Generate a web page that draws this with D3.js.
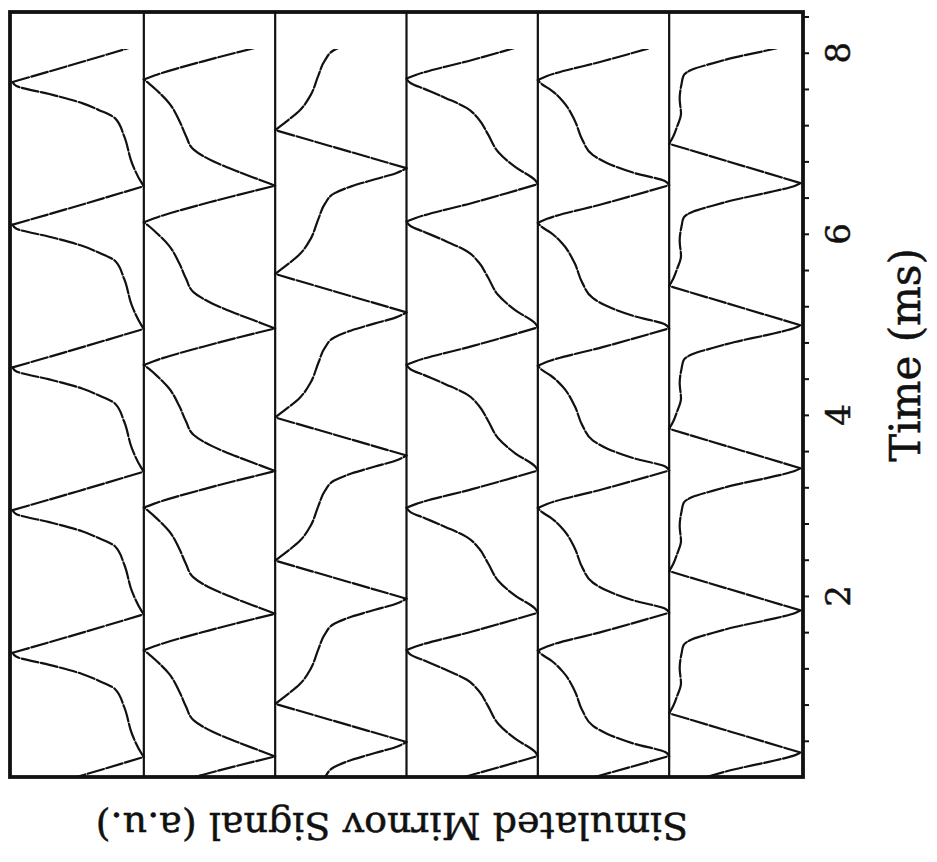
<!DOCTYPE html>
<html>
<head>
<meta charset="utf-8">
<script src="https://cdn.jsdelivr.net/npm/d3@7"></script>
<style>
  body { margin: 0; background: #ffffff; }
  svg { display: block; }
  text { font-family: "DejaVu Serif", "Liberation Serif", serif; fill: #111; stroke: #111; stroke-width: 0.5; }
</style>
</head>
<body>
<svg id="chart" width="937" height="862"></svg>
<script>
// ---------------- DATA ----------------
// Time axis, ms
const timeTicks  = [0.4, 0.8, 1.2, 1.6, 2.0, 2.4, 2.8, 3.2, 3.6, 4.0, 4.4,
                    4.8, 5.2, 5.6, 6.0, 6.4, 6.8, 7.2, 7.6, 8.0, 8.4];
const timeLabels = [2, 4, 6, 8];
const timeDomain = [0, 8.45];
const traceEnd   = 8.04;           // ms, where the simulated traces stop
const timeTitle   = "Time (ms)";
const signalTitle = "Simulated Mirnov Signal (a.u.)";

// Six stacked traces (one per probe). Each period is described by a shape:
// [phase within the period (0 = maximum, 1 = next maximum), normalised signal 0..1]
const shape1 = [[0,1],[0.028,0.98],[0.161,0.91],[0.351,0.85],[0.477,0.78],[0.533,0.66],
                [0.582,0.53],[0.646,0.28],[0.702,0.03],[0.730,0],[0.863,0.5],[1,1]];
const shape2 = [[0,1],[0.035,0.9],[0.105,0.7],[0.175,0.52],[0.253,0.38],[0.351,0.32],
                [0.456,0.27],[0.582,0.19],[0.667,0.1],[0.716,0.04],[0.744,0],
                [0.772,0.08],[0.884,0.5],[1,1]];
const shape3 = [[0,1],[0.266,0],[0.322,0.08],[0.406,0.19],[0.510,0.27],[0.650,0.33],
                [0.755,0.38],[0.825,0.45],[0.874,0.58],[0.923,0.76],[0.965,0.92],[1,1]];
const shape4 = [[0,1],[0.028,0.98],[0.119,0.83],[0.224,0.70],[0.350,0.62],[0.455,0.55],
                [0.532,0.46],[0.602,0.30],[0.665,0.14],[0.708,0.03],[0.739,0],
                [0.764,0.07],[0.869,0.5],[1,1]];
const shape5 = [[0,1],[0.028,0.97],[0.084,0.74],[0.154,0.53],[0.211,0.42],[0.316,0.34],
                [0.456,0.28],[0.589,0.19],[0.667,0.1],[0.709,0.03],[0.737,0],
                [0.765,0.07],[0.870,0.5],[1,1]];
const shape6 = [[0,1],[0.276,0],[0.325,0.03],[0.396,0.06],[0.488,0.09],[0.594,0.08],
                [0.700,0.095],[0.756,0.11],[0.799,0.18],[0.841,0.33],[0.883,0.5],
                [0.933,0.75],[0.982,0.96],[1,1]];

// Times (ms) of the successive signal maxima of every trace
const maxima1 = [-1.355, 0.221, 1.797, 3.373, 4.950, 6.526, 8.102];
const maxima2 = [-1.349, 0.227, 1.803, 3.379, 4.955, 6.531, 8.107];
const maxima3 = [-1.195, 0.387, 1.969, 3.551, 5.132, 6.725, 8.307];
const maxima4 = [-1.350, 0.232, 1.814, 3.385, 4.966, 6.548, 8.127];
const maxima5 = [-1.344, 0.232, 1.814, 3.385, 4.955, 6.537, 8.113];
const maxima6 = [-1.303, 0.270, 1.840, 3.410, 4.990, 6.560, 8.133];

const traceShapes = [shape1, shape2, shape3, shape4, shape5, shape6];
const traceMaxima = [maxima1, maxima2, maxima3, maxima4, maxima5, maxima6];

// ---------------- DRAWING ----------------
const svg = d3.select("#chart");
const frame = { left: 10, right: 803, top: 12, bottom: 777 };

const y = d3.scaleLinear().domain(timeDomain).range([frame.bottom, frame.top]);
const x = d3.scaleLinear().domain([0, traceShapes.length]).range([12.5, 800.5]);

svg.append("rect").attr("width", 937).attr("height", 862).attr("fill", "#fff");

svg.append("defs").append("clipPath").attr("id", "plotClip")
  .append("rect")
  .attr("x", frame.left).attr("y", y(traceEnd))
  .attr("width", frame.right - frame.left)
  .attr("height", frame.bottom - y(traceEnd));

// band separators (trace baselines)
svg.append("g").selectAll("line")
  .data(d3.range(1, traceShapes.length))
  .join("line")
  .attr("x1", d => x(d)).attr("x2", d => x(d))
  .attr("y1", frame.top).attr("y2", frame.bottom)
  .attr("stroke", "#111").attr("stroke-width", 2.2);

// traces
function segmentsFor(shape, maxima) {
  const minIdx = shape.findIndex(p => p[1] === 0);
  const segs = [];
  for (let i = 0; i < maxima.length - 1; i++) {
    const t0 = maxima[i], t1 = maxima[i + 1];
    const pts = shape.map(([p, v]) => ({ t: t0 + p * (t1 - t0), v }));
    segs.push(pts.slice(0, minIdx + 1));
    segs.push(pts.slice(minIdx));
  }
  return segs;
}

const gTraces = svg.append("g").attr("clip-path", "url(#plotClip)");
traceShapes.forEach((shape, k) => {
  const line = d3.line()
    .x(d => x(k + d.v))
    .y(d => y(d.t))
    .curve(d3.curveMonotoneY);
  gTraces.append("g").selectAll("path")
    .data(segmentsFor(shape, traceMaxima[k]))
    .join("path")
    .attr("d", line)
    .attr("fill", "none")
    .attr("stroke", "#111")
    .attr("stroke-width", 2.2)
    .attr("stroke-dasharray", "17 2.5")
    .attr("stroke-linecap", "round");
});

// frame
svg.append("rect")
  .attr("x", frame.left).attr("y", frame.top)
  .attr("width", frame.right - frame.left).attr("height", frame.bottom - frame.top)
  .attr("fill", "none").attr("stroke", "#111").attr("stroke-width", 3.8);

// time axis on the right
const axis = svg.append("g")
  .attr("transform", `translate(${frame.right},0)`)
  .call(d3.axisRight(y).tickValues(timeTicks).tickSize(6).tickFormat(""));
axis.select(".domain").remove();
axis.selectAll(".tick line").attr("stroke", "#111").attr("stroke-width", 2);

svg.append("g").selectAll("text")
  .data(timeLabels)
  .join("text")
  .attr("x", 838).attr("y", d => y(d))
  .attr("transform", d => `rotate(-90, 838, ${y(d)})`)
  .attr("text-anchor", "middle")
  .attr("dominant-baseline", "central")
  .attr("font-size", 34)
  .text(d => d);

svg.append("text")
  .attr("x", 905).attr("y", 355)
  .attr("transform", "rotate(-90, 905, 355)")
  .attr("text-anchor", "middle")
  .attr("dominant-baseline", "central")
  .attr("font-size", 42)
  .text(timeTitle);

svg.append("text")
  .attr("x", 392).attr("y", 826)
  .attr("transform", "rotate(180, 392, 826)")
  .attr("text-anchor", "middle")
  .attr("dominant-baseline", "central")
  .attr("font-size", 38)
  .text(signalTitle);
</script>
</body>
</html>
